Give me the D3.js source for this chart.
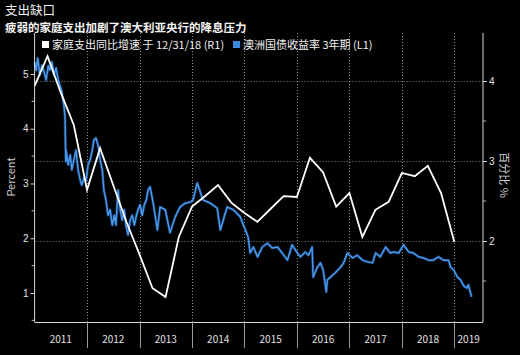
<!DOCTYPE html>
<html><head><meta charset="utf-8">
<script src="https://cdn.jsdelivr.net/npm/d3@7"></script>
<style>
html,body{margin:0;padding:0;background:#000;}
svg{display:block;font-family:"Noto Sans CJK SC","Noto Sans",sans-serif;}
</style></head>
<body><svg id="c" width="520" height="355"></svg>
<script>
// ---- data ----
const titleText = "支出缺口";
const subtitleText = "疲弱的家庭支出加剧了澳大利亚央行的降息压力";
const legendWhite = "家庭支出同比增速 于 12/31/18 (R1)";
const legendBlue = "澳洲国债收益率 3年期 (L1)";
const years = [2011, 2012, 2013, 2014, 2015, 2016, 2017, 2018, 2019];
const leftTicks = [1, 2, 3, 4, 5];
const rightTicks = [2, 3, 4];
const leftTitle = "Percent";
const rightTitle = "百分比 %";

// household spending yoy (right axis), quarterly
const spendDates = ["2011-01-01","2011-04-01","2011-07-01","2011-10-01","2012-01-01","2012-04-01","2012-07-01","2012-10-01",
  "2013-01-01","2013-04-01","2013-07-01","2013-10-01","2014-01-01","2014-04-01","2014-07-01","2014-10-01",
  "2015-01-01","2015-04-01","2015-07-01","2015-10-01","2016-01-01","2016-04-01","2016-07-01","2016-10-01",
  "2017-01-01","2017-04-01","2017-07-01","2017-10-01","2018-01-01","2018-04-01","2018-07-01","2018-10-01","2019-01-01"];
const spendValues = [3.94,4.31,3.86,3.45,2.64,3.16,2.70,2.24,
  1.83,1.41,1.30,2.05,2.43,2.56,2.70,2.48,
  2.35,2.24,2.40,2.56,2.55,3.04,2.86,2.43,
  2.60,2.05,2.39,2.49,2.85,2.81,2.94,2.60,1.99];

// bond yield (left axis), [decimal year, percent]
const yieldSeries = [
 [2011.00,5.22],[2011.03,5.07],[2011.06,5.29],[2011.10,4.98],[2011.14,5.16],[2011.18,5.04],[2011.22,4.89],[2011.26,5.15],
 [2011.29,5.07],[2011.33,5.22],[2011.37,4.98],[2011.41,5.11],[2011.45,4.89],[2011.48,4.80],[2011.52,4.67],[2011.56,4.43],
 [2011.58,4.21],[2011.595,3.40],[2011.60,3.61],[2011.64,3.34],[2011.68,3.52],[2011.71,3.25],[2011.75,3.43],[2011.79,3.61],
 [2011.83,3.25],[2011.87,3.06],[2011.90,2.97],[2011.94,3.10],[2011.98,3.06],[2012.02,3.34],[2012.06,3.43],[2012.10,3.61],
 [2012.13,3.79],[2012.17,3.83],[2012.21,3.70],[2012.25,3.43],[2012.29,3.25],[2012.32,2.88],[2012.36,2.70],[2012.40,2.42],
 [2012.44,2.52],[2012.48,2.24],[2012.52,2.42],[2012.55,2.24],[2012.59,2.88],[2012.63,2.52],[2012.67,2.33],[2012.71,2.52],
 [2012.74,2.24],[2012.78,2.06],[2012.82,2.33],[2012.86,2.42],[2012.90,2.24],[2012.94,2.42],[2012.97,2.52],[2013.01,2.61],
 [2013.05,2.42],[2013.09,2.61],[2013.13,2.70],[2013.16,2.88],[2013.20,2.94],[2013.26,2.64],[2013.34,2.15],[2013.39,2.57],
 [2013.49,2.52],[2013.58,2.10],[2013.68,2.39],[2013.77,2.57],[2013.87,2.64],[2013.97,2.66],[2014.02,2.70],[2014.10,3.01],
 [2014.21,2.70],[2014.35,2.64],[2014.48,2.55],[2014.54,2.15],[2014.67,2.57],[2014.79,2.52],[2014.92,2.39],[2014.98,2.24],
 [2015.02,2.15],[2015.07,2.02],[2015.11,1.73],[2015.17,1.84],[2015.25,1.66],[2015.34,1.84],[2015.44,1.91],[2015.53,1.82],
 [2015.63,1.84],[2015.72,1.73],[2015.82,1.60],[2015.91,1.88],[2016.01,1.73],[2016.07,1.66],[2016.16,1.75],[2016.22,1.69],
 [2016.29,1.84],[2016.31,1.29],[2016.39,1.47],[2016.45,1.55],[2016.50,1.42],[2016.56,1.02],[2016.58,1.24],[2016.64,1.29],
 [2016.73,1.37],[2016.83,1.47],[2016.89,1.55],[2016.96,1.73],[2017.06,1.64],[2017.15,1.69],[2017.25,1.60],[2017.34,1.57],
 [2017.44,1.55],[2017.50,1.73],[2017.59,1.66],[2017.69,1.84],[2017.78,1.73],[2017.84,1.75],[2017.94,1.73],[2018.03,1.88],
 [2018.13,1.75],[2018.22,1.73],[2018.32,1.66],[2018.41,1.64],[2018.51,1.60],[2018.60,1.60],[2018.70,1.66],[2018.79,1.60],
 [2018.89,1.60],[2018.93,1.47],[2018.99,1.42],[2019.06,1.29],[2019.12,1.24],[2019.18,1.13],[2019.24,1.09],[2019.27,1.15],
 [2019.31,1.00],[2019.33,0.93]
];

// ---- layout ----
const W = 520, H = 355;
const plot = {left: 34.6, right: 483, top: 33, bottom: 322};
const svg = d3.select("#c");
svg.append("rect").attr("width", W).attr("height", H).attr("fill", "#000");

function decToDate(d) {
  const y = Math.floor(d);
  const s = new Date(y, 0, 1), e = new Date(y + 1, 0, 1);
  return new Date(+s + (d - y) * (e - s));
}

const x = d3.scaleTime().domain([new Date(2011,0,1), new Date(2019,6,20)]).range([plot.left, plot.right]);
const yL = d3.scaleLinear().domain([0.47, 5.749]).range([plot.bottom, plot.top]);
const yR = d3.scaleLinear().domain([0.9875, 4.6]).range([plot.bottom, plot.top]);

// gridlines
const grid = svg.append("g").attr("stroke", "#8a8a8a").attr("stroke-width", 1).attr("stroke-dasharray", "1,2");
rightTicks.forEach(t => {
  grid.append("line").attr("x1", plot.left).attr("x2", plot.right)
    .attr("y1", Math.round(yR(t)) + 0.5).attr("y2", Math.round(yR(t)) + 0.5);
});
years.slice(1).forEach(yr => {
  const xx = Math.round(x(new Date(yr, 0, 1))) + 0.5;
  grid.append("line").attr("x1", xx).attr("x2", xx).attr("y1", plot.top).attr("y2", plot.bottom);
});

// legend
const lg = svg.append("g").attr("font-size", 11).attr("fill", "#f2f2f2");
lg.append("rect").attr("x", 42).attr("y", 41).attr("width", 7).attr("height", 7).attr("fill", "#fff");
lg.append("text").attr("x", 52).attr("y", 48.5).text(legendWhite);
lg.append("rect").attr("x", 233).attr("y", 41).attr("width", 7).attr("height", 7).attr("fill", "#3d8be0");
lg.append("text").attr("x", 243).attr("y", 48.5).text(legendBlue);

// yield line (blue)
const blueLine = d3.line().x(d => x(decToDate(d[0]))).y(d => yL(d[1]));
svg.append("path").datum(yieldSeries).attr("d", blueLine)
  .attr("fill", "none").attr("stroke", "#1f5fb0").attr("stroke-width", 3).attr("stroke-opacity", 0.5).attr("stroke-linejoin", "round");
svg.append("path").datum(yieldSeries).attr("d", blueLine)
  .attr("fill", "none").attr("stroke", "#4a98ea").attr("stroke-width", 1.5).attr("stroke-linejoin", "round");

// spending line (white)
const spend = spendDates.map((d, i) => ({date: new Date(d), v: spendValues[i]}));
svg.append("path").datum(spend)
  .attr("d", d3.line().x(d => x(d.date)).y(d => yR(d.v)))
  .attr("fill", "none").attr("stroke", "#fff").attr("stroke-width", 1.8).attr("stroke-linejoin", "miter");

// left axis
const axL = d3.axisLeft(yL).tickValues(leftTicks).tickSize(4).tickFormat(d3.format("d"));
const gL = svg.append("g").attr("transform", `translate(${plot.left},0)`).call(axL);
gL.select(".domain").attr("stroke", "#d8d8d8").attr("d", `M0,${plot.top}V${plot.bottom}`);
gL.selectAll(".tick line").attr("stroke", "#d8d8d8");
gL.selectAll(".tick text").attr("fill", "#e0e0e0").attr("font-size", 10).attr("x", -6);
const minorL = [0.5, 1.5, 2.5, 3.5, 4.5];
gL.selectAll(".minor").data(minorL).enter().append("line")
  .attr("x1", -3).attr("x2", 0).attr("y1", d => yL(d)).attr("y2", d => yL(d)).attr("stroke", "#bbb");

// right axis
const axR = d3.axisRight(yR).tickValues(rightTicks).tickSize(4).tickFormat(d3.format("d"));
const gR = svg.append("g").attr("transform", `translate(${plot.right},0)`).call(axR);
gR.select(".domain").attr("stroke", "#d8d8d8").attr("d", `M0,${plot.top}V${plot.bottom}`);
gR.selectAll(".tick line").attr("stroke", "#d8d8d8");
gR.selectAll(".tick text").attr("fill", "#e0e0e0").attr("font-size", 10).attr("x", 6);
const minorR = [1.5, 2.5, 3.5];
gR.selectAll(".minor").data(minorR).enter().append("line")
  .attr("x1", 0).attr("x2", 3).attr("y1", d => yR(d)).attr("y2", d => yR(d)).attr("stroke", "#bbb");

// x axis
const gX = svg.append("g");
gX.append("line").attr("x1", plot.left).attr("x2", plot.right).attr("y1", plot.bottom + 0.5).attr("y2", plot.bottom + 0.5)
  .attr("stroke", "#d8d8d8");
years.slice(1).forEach(yr => {
  const xx = Math.round(x(new Date(yr, 0, 1))) + 0.5;
  gX.append("line").attr("x1", xx).attr("x2", xx).attr("y1", plot.bottom).attr("y2", plot.bottom + 26)
    .attr("stroke", "#9a9a9a");
});
years.forEach(yr => {
  const a = x(new Date(yr, 0, 1));
  const b = Math.min(x(new Date(yr + 1, 0, 1)), plot.right);
  gX.append("text").attr("x", (a + b) / 2).attr("y", 343).attr("text-anchor", "middle")
    .attr("font-size", 10).attr("fill", "#e0e0e0").text(yr);
});

// axis titles
svg.append("text").attr("transform", `translate(15,177) rotate(-90)`).attr("text-anchor", "middle")
  .attr("font-size", 11).attr("fill", "#cfcfcf").text(leftTitle);
svg.append("text").attr("transform", `translate(500,175) rotate(90)`).attr("text-anchor", "middle")
  .attr("font-size", 11).attr("fill", "#cfcfcf").text(rightTitle);

// titles
svg.append("text").attr("x", 5).attr("y", 14.6).attr("font-size", 12.5).attr("fill", "#f5f5f5").text(titleText);
svg.append("text").attr("x", 5).attr("y", 31.5).attr("font-size", 11.5).attr("font-weight", "bold").attr("fill", "#f5f5f5").text(subtitleText);
</script></body></html>
